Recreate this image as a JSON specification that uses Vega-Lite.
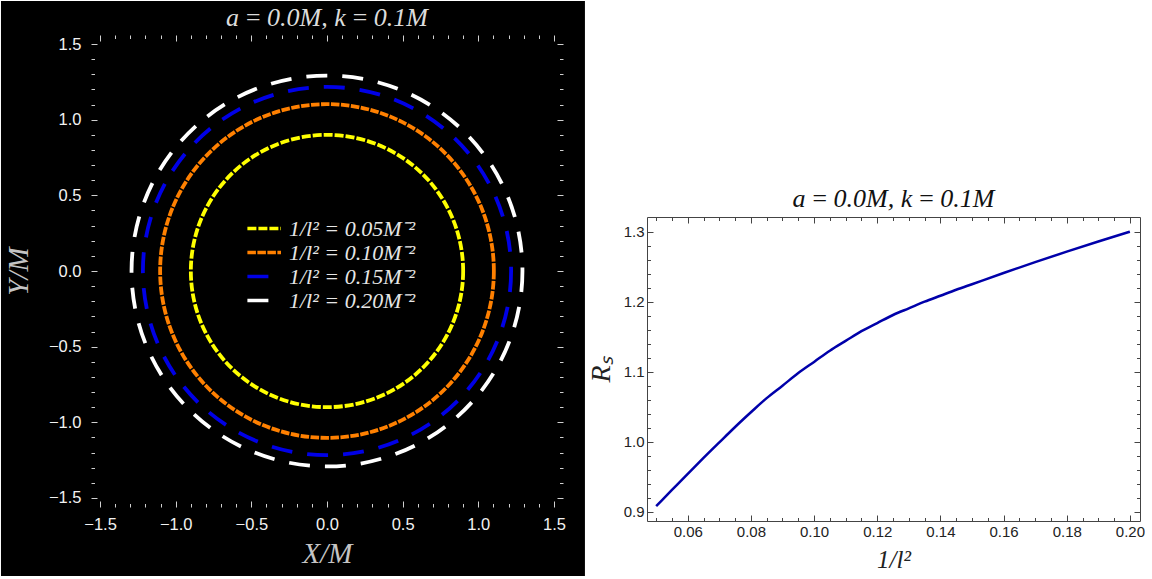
{
  "$schema": "https://vega.github.io/schema/vega-lite/v6.json",
  "background": "white",
  "padding": 0,
  "spacing": 2,
  "config": {
    "view": {"stroke": null},
    "axis": {"grid": false, "labelOverlap": false, "labelBound": false, "labelFlush": false},
    "title": {"font": "Liberation Serif", "fontStyle": "italic", "fontWeight": "normal", "fontSize": 26, "anchor": "middle"}
  },
  "hconcat": [
    {
      "width": 472,
      "height": 472,
      "title": {"text": "a\u2009=\u20090.0M, k\u2009=\u20090.1M", "color": "#dcdcdc", "offset": -30},
      "layer": [
        {
          "data": {"values": [{}]},
          "mark": {"type": "rect", "color": "black"},
          "encoding": {
            "x": {"datum": -2.155, "type": "quantitative",
              "scale": {"domain": [-1.56, 1.56], "nice": false, "zero": false},
              "axis": {"orient": "bottom", "values": [-1.5,-1.4,-1.3,-1.2,-1.1,-1,-0.9,-0.8,-0.7,-0.6,-0.5,-0.4,-0.3,-0.2,-0.1,0,0.1,0.2,0.3,0.4,0.5,0.6,0.7,0.8,0.9,1,1.1,1.2,1.3,1.4,1.5],
                "labelExpr": "abs(datum.value*2-round(datum.value*2))<0.001 ? replace(format(datum.value,'.1f'),'-','−') : ''",
                "tickSize": {"condition": {"test": "abs(datum.value*2-round(datum.value*2))<0.001", "value": -6}, "value": -3.5},
                "tickColor": "#d0d0d0", "domain": false, "zindex": 1,
                "labelFont": "Liberation Sans", "labelFontSize": 16.5, "labelColor": "#f2f2f2", "labelPadding": 15,
                "title": "X/M", "titleFont": "Liberation Serif", "titleFontStyle": "italic", "titleFontWeight": "normal", "titleFontSize": 29, "titleColor": "#c4c4c4", "titlePadding": 4}},
            "x2": {"datum": 1.705},
            "y": {"datum": 1.785, "type": "quantitative",
              "scale": {"domain": [-1.56, 1.56], "nice": false, "zero": false},
              "axis": {"orient": "left", "values": [-1.5,-1.4,-1.3,-1.2,-1.1,-1,-0.9,-0.8,-0.7,-0.6,-0.5,-0.4,-0.3,-0.2,-0.1,0,0.1,0.2,0.3,0.4,0.5,0.6,0.7,0.8,0.9,1,1.1,1.2,1.3,1.4,1.5],
                "labelExpr": "abs(datum.value*2-round(datum.value*2))<0.001 ? replace(format(datum.value,'.1f'),'-','−') : ''",
                "tickSize": {"condition": {"test": "abs(datum.value*2-round(datum.value*2))<0.001", "value": -6}, "value": -3.5},
                "tickColor": "#d0d0d0", "domain": false, "zindex": 1,
                "labelFont": "Liberation Sans", "labelFontSize": 16.5, "labelColor": "#f2f2f2", "labelPadding": 16,
                "title": "Y/M", "titleFont": "Liberation Serif", "titleFontStyle": "italic", "titleFontWeight": "normal", "titleFontSize": 29, "titleColor": "#c4c4c4", "titlePadding": 15}},
            "y2": {"datum": -2.016}
          }
        },
        {
          "data": {"values": [
            {"inv_l2": 0.05, "label": "1/l² = 0.05M⁻²", "r": 0.9},
            {"inv_l2": 0.10, "label": "1/l² = 0.10M⁻²", "r": 1.103},
            {"inv_l2": 0.15, "label": "1/l² = 0.15M⁻²", "r": 1.217},
            {"inv_l2": 0.20, "label": "1/l² = 0.20M⁻²", "r": 1.292}
          ]},
          "mark": {"type": "point", "shape": "circle", "filled": false, "opacity": 1},
          "encoding": {
            "x": {"datum": 0, "type": "quantitative", "axis": null, "scale": {"domain": [-1.56, 1.56], "nice": false, "zero": false}},
            "y": {"datum": 0, "type": "quantitative", "axis": null, "scale": {"domain": [-1.56, 1.56], "nice": false, "zero": false}},
            "size": {"field": "r", "type": "quantitative", "legend": null, "scale": {"type": "pow", "exponent": 2, "domain": [0, 1.56], "range": [0, 222784], "zero": true, "nice": false}},
            "color": {"field": "label", "type": "nominal",
              "scale": {"domain": ["1/l² = 0.05M⁻²", "1/l² = 0.10M⁻²", "1/l² = 0.15M⁻²", "1/l² = 0.20M⁻²"], "range": ["#ffff00", "#ff8000", "#0000e6", "#ffffff"]},
              "legend": {"title": null, "orient": "none", "legendX": 167, "legendY": 181, "symbolType": "M-2.2,0H1", "symbolSize": 441, "symbolStrokeWidth": 3.5,
                "labelFont": "Liberation Serif", "labelFontStyle": "italic", "labelFontSize": 22, "labelColor": "#e6e6e6", "labelOffset": 6, "rowPadding": 0, "padding": 0, "zindex": 1, "labelLimit": 300}},
            "strokeDash": {"field": "label", "type": "nominal",
              "scale": {"domain": ["1/l² = 0.05M⁻²", "1/l² = 0.10M⁻²", "1/l² = 0.15M⁻²", "1/l² = 0.20M⁻²"], "range": [[9, 2], [8.5, 1.5], [21, 15], [21, 15]]},
              "legend": {"title": null, "orient": "none", "legendX": 167, "legendY": 181, "symbolType": "M-2.2,0H1", "symbolSize": 441,
                "labelFont": "Liberation Serif", "labelFontStyle": "italic", "labelFontSize": 22, "labelColor": "#e6e6e6", "labelOffset": 6, "rowPadding": 0, "padding": 0, "zindex": 1, "labelLimit": 300}},
            "strokeWidth": {"value": 3.8}
          }
        },
        {
          "data": {"values": [{}]},
          "mark": {"type": "point", "opacity": 0},
          "encoding": {
            "x": {"datum": 0, "type": "quantitative",
              "scale": {"domain": [-1.56, 1.56], "nice": false, "zero": false},
              "axis": {"orient": "top", "values": [-1.5,-1.4,-1.3,-1.2,-1.1,-1,-0.9,-0.8,-0.7,-0.6,-0.5,-0.4,-0.3,-0.2,-0.1,0,0.1,0.2,0.3,0.4,0.5,0.6,0.7,0.8,0.9,1,1.1,1.2,1.3,1.4,1.5],
                "labels": false, "title": null, "domain": false, "zindex": 1, "tickColor": "#d0d0d0", "minExtent": 0,
                "tickSize": {"condition": {"test": "abs(datum.value*2-round(datum.value*2))<0.001", "value": -6}, "value": -3.5}}},
            "y": {"datum": 0, "type": "quantitative",
              "scale": {"domain": [-1.56, 1.56], "nice": false, "zero": false},
              "axis": {"orient": "right", "values": [-1.5,-1.4,-1.3,-1.2,-1.1,-1,-0.9,-0.8,-0.7,-0.6,-0.5,-0.4,-0.3,-0.2,-0.1,0,0.1,0.2,0.3,0.4,0.5,0.6,0.7,0.8,0.9,1,1.1,1.2,1.3,1.4,1.5],
                "labels": false, "title": null, "domain": false, "zindex": 1, "tickColor": "#d0d0d0", "minExtent": 0,
                "tickSize": {"condition": {"test": "abs(datum.value*2-round(datum.value*2))<0.001", "value": -6}, "value": -3.5}}}
          }
        }
      ],
      "resolve": {"axis": {"x": "independent", "y": "independent"}}
    },
    {
      "spacing": 0,
      "vconcat": [
        {
          "width": 10,
          "height": 150,
          "data": {"values": []},
          "mark": {"type": "point", "opacity": 0},
          "encoding": {}
        },
        {
          "width": 493,
          "height": 304,
          "title": {"text": "a\u2009=\u20090.0M, k\u2009=\u20090.1M", "color": "#111111", "offset": 5},
          "layer": [
            {
              "data": {"values": [
                {"inv_l2": 0.05, "Rs": 0.908},
                {"inv_l2": 0.055, "Rs": 0.931},
                {"inv_l2": 0.06, "Rs": 0.954},
                {"inv_l2": 0.065, "Rs": 0.9768},
                {"inv_l2": 0.07, "Rs": 0.999},
                {"inv_l2": 0.075, "Rs": 1.021},
                {"inv_l2": 0.08, "Rs": 1.042},
                {"inv_l2": 0.085, "Rs": 1.0623},
                {"inv_l2": 0.09, "Rs": 1.08},
                {"inv_l2": 0.095, "Rs": 1.098},
                {"inv_l2": 0.10, "Rs": 1.114},
                {"inv_l2": 0.105, "Rs": 1.13},
                {"inv_l2": 0.11, "Rs": 1.144},
                {"inv_l2": 0.115, "Rs": 1.1579},
                {"inv_l2": 0.12, "Rs": 1.1695},
                {"inv_l2": 0.125, "Rs": 1.181},
                {"inv_l2": 0.13, "Rs": 1.1905},
                {"inv_l2": 0.135, "Rs": 1.2},
                {"inv_l2": 0.14, "Rs": 1.2085},
                {"inv_l2": 0.145, "Rs": 1.217},
                {"inv_l2": 0.15, "Rs": 1.225},
                {"inv_l2": 0.16, "Rs": 1.241},
                {"inv_l2": 0.17, "Rs": 1.2565},
                {"inv_l2": 0.18, "Rs": 1.2715},
                {"inv_l2": 0.19, "Rs": 1.286},
                {"inv_l2": 0.20, "Rs": 1.3}
              ]},
              "mark": {"type": "line", "color": "#0000aa", "strokeWidth": 2.5, "interpolate": "monotone"},
              "encoding": {
                "x": {"field": "inv_l2", "type": "quantitative",
                  "scale": {"domain": [0.0471, 0.2032], "nice": false, "zero": false},
                  "axis": {"orient": "bottom", "values": [0.05,0.055,0.06,0.065,0.07,0.075,0.08,0.085,0.09,0.095,0.1,0.105,0.11,0.115,0.12,0.125,0.13,0.135,0.14,0.145,0.15,0.155,0.16,0.165,0.17,0.175,0.18,0.185,0.19,0.195,0.2],
                    "labelExpr": "abs(datum.value*50-round(datum.value*50))<0.001 ? format(datum.value,'.2f') : ''",
                    "tickSize": {"condition": {"test": "abs(datum.value*50-round(datum.value*50))<0.001", "value": -6}, "value": -3.5},
                    "tickColor": "#444444", "domain": true, "domainColor": "#444444",
                    "labelFont": "Liberation Sans", "labelFontSize": 15, "labelColor": "#222222", "labelPadding": 9,
                    "title": "1/l²", "titleFont": "Liberation Serif", "titleFontStyle": "italic", "titleFontWeight": "normal", "titleFontSize": 25, "titleColor": "#222222", "titlePadding": 6}},
                "y": {"field": "Rs", "type": "quantitative",
                  "scale": {"domain": [0.8867, 1.321], "nice": false, "zero": false},
                  "axis": {"orient": "left", "values": [0.9,0.92,0.94,0.96,0.98,1,1.02,1.04,1.06,1.08,1.1,1.12,1.14,1.16,1.18,1.2,1.22,1.24,1.26,1.28,1.3],
                    "labelExpr": "abs(datum.value*10-round(datum.value*10))<0.001 ? format(datum.value,'.1f') : ''",
                    "tickSize": {"condition": {"test": "abs(datum.value*10-round(datum.value*10))<0.001", "value": -6}, "value": -3.5},
                    "tickColor": "#444444", "domain": true, "domainColor": "#444444",
                    "labelFont": "Liberation Sans", "labelFontSize": 15, "labelColor": "#222222", "labelPadding": 9,
                    "title": "Rₛ", "titleFont": "Liberation Serif", "titleFontStyle": "italic", "titleFontWeight": "normal", "titleFontSize": 28, "titleColor": "#222222", "titlePadding": 8}}
              }
            },
            {
              "data": {"values": [{}]},
              "mark": {"type": "point", "opacity": 0},
              "encoding": {
                "x": {"datum": 0.1, "type": "quantitative",
                  "scale": {"domain": [0.0471, 0.2032], "nice": false, "zero": false},
                  "axis": {"orient": "top", "values": [0.05,0.055,0.06,0.065,0.07,0.075,0.08,0.085,0.09,0.095,0.1,0.105,0.11,0.115,0.12,0.125,0.13,0.135,0.14,0.145,0.15,0.155,0.16,0.165,0.17,0.175,0.18,0.185,0.19,0.195,0.2],
                    "labels": false, "title": null, "domain": true, "domainColor": "#444444", "tickColor": "#444444", "minExtent": 0,
                    "tickSize": {"condition": {"test": "abs(datum.value*50-round(datum.value*50))<0.001", "value": -6}, "value": -3.5}}},
                "y": {"datum": 1.1, "type": "quantitative",
                  "scale": {"domain": [0.8867, 1.321], "nice": false, "zero": false},
                  "axis": {"orient": "right", "values": [0.9,0.92,0.94,0.96,0.98,1,1.02,1.04,1.06,1.08,1.1,1.12,1.14,1.16,1.18,1.2,1.22,1.24,1.26,1.28,1.3],
                    "labels": false, "title": null, "domain": true, "domainColor": "#444444", "tickColor": "#444444", "minExtent": 0,
                    "tickSize": {"condition": {"test": "abs(datum.value*10-round(datum.value*10))<0.001", "value": -6}, "value": -3.5}}}
              }
            }
          ],
          "resolve": {"axis": {"x": "independent", "y": "independent"}}
        }
      ]
    }
  ]
}
